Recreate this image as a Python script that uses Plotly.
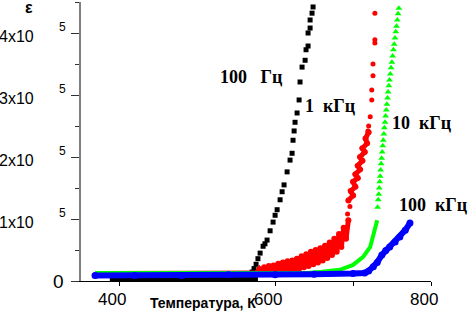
import plotly.graph_objects as go

# ---------------- data (epsilon in units of 10^5) ----------------
x_tick_vals = [400, 600, 800]
x_tick_labels = ["400", "600", "800"]
y_tick_vals = [1, 2, 3, 4]
y_tick_labels = ["1x10", "2x10", "3x10", "4x10"]
y_tick_exp = "5"

series_names = ["100 Гц", "1 кГц", "10 кГц", "100 кГц"]

# 100 Hz (black squares)
black_T_base = [388, 420, 460, 500, 540, 570, 578]
black_eps_base = [0.02, 0.02, 0.02, 0.02, 0.02, 0.03, 0.04]
black_T_rise = [570.5, 573, 575.6, 578, 580.8, 584.6, 587, 589.7, 593.6, 597.4, 600,
                602.6, 606.4, 609, 611.5, 615.4, 619.2, 621.8, 623, 624.4, 625.6, 628.2,
                630.8, 632, 634.6, 638.5, 639.7, 642.3, 642.3, 644.9, 644.9, 647.4, 648.7]
black_eps_rise = [0.145, 0.2, 0.27, 0.36, 0.45, 0.56, 0.6, 0.66, 0.81, 0.95, 1.06,
                  1.15, 1.31, 1.44, 1.55, 1.76, 1.95, 2.06, 2.27, 2.42, 2.56, 2.71,
                  2.92, 3.21, 3.45, 3.56, 3.73, 3.79, 4.0, 4.08, 4.21, 4.32, 4.42]

# 1 kHz (red)
red_T_base = [372, 420, 480, 540, 577]
red_eps_base = [0.12, 0.12, 0.12, 0.12, 0.13]
red_T_band = [577, 580, 583, 586, 589, 592, 595, 598, 601, 604, 607, 610, 613, 616, 619,
              622, 625, 628, 631, 634, 637, 640, 643, 646, 649, 652, 655, 658, 661, 664,
              667, 670, 673, 676, 679, 682, 685, 688, 691, 694]
red_eps_band = [0.13, 0.19, 0.14, 0.22, 0.15, 0.24, 0.16, 0.25, 0.15, 0.28, 0.17, 0.3,
                0.16, 0.32, 0.18, 0.33, 0.19, 0.36, 0.2, 0.4, 0.22, 0.43, 0.24, 0.47,
                0.27, 0.5, 0.3, 0.53, 0.33, 0.57, 0.37, 0.62, 0.42, 0.68, 0.47, 0.76,
                0.55, 0.86, 0.68, 0.98]
red_T_mid = [694, 700, 697, 703, 700, 706, 703, 709, 706, 712, 709, 715, 712, 718, 716,
             720]
red_eps_mid = [1.3, 1.38, 1.45, 1.52, 1.6, 1.66, 1.72, 1.8, 1.86, 1.94, 2.0, 2.08, 2.14,
               2.22, 2.3, 2.4]
red_T_top = [693, 696, 719, 720, 722, 724, 724, 725.6, 725.6, 728, 728, 728]
red_eps_top = [1.08, 1.2, 2.42, 2.5, 2.65, 2.92, 3.08, 3.31, 3.5, 3.84, 3.89, 4.32]

# 10 kHz (green triangles)
green_T_base = [369, 420, 480, 540, 600, 640, 660, 683, 700, 713, 722, 725.6, 728, 731]
green_eps_base = [0.13, 0.13, 0.13, 0.13, 0.13, 0.13, 0.15, 0.18, 0.26, 0.39, 0.55,
                  0.71, 0.87, 0.98]
green_T_top = [731.5, 732.3, 733, 733.6, 734.2, 734.8, 735.4, 736, 736.7, 737.4, 738.1,
               738.8, 739.5, 740.2, 741, 741.8, 742.6, 743.4, 744.2, 745, 745.9, 746.8,
               747.8, 748.8, 749.8, 750.8, 751.8, 752.8, 753.8, 754.8, 755.8, 756.8,
               757.8, 758.8]
green_eps_top = [1.19, 1.31, 1.4, 1.5, 1.6, 1.69, 1.79, 1.89, 1.98, 2.08, 2.18, 2.27,
                 2.37, 2.47, 2.56, 2.66, 2.76, 2.85, 2.95, 3.05, 3.15, 3.24, 3.34, 3.44,
                 3.53, 3.63, 3.73, 3.82, 3.92, 4.02, 4.11, 4.21, 4.31, 4.4]

# 100 kHz (blue circles)
blue_T = [369, 420, 480, 540, 600, 650, 700, 715, 720, 726, 731, 737, 742, 747, 754,
          760, 767, 773]
blue_eps = [0.09, 0.09, 0.09, 0.1, 0.1, 0.11, 0.12, 0.13, 0.16, 0.23, 0.3, 0.42, 0.49,
            0.55, 0.63, 0.71, 0.82, 0.935]

SCALE = 1e5


def sc(v):
    return [e * SCALE for e in v]


fig = go.Figure()

# black
fig.add_trace(go.Scatter(x=black_T_base, y=sc(black_eps_base), mode="lines",
                         line=dict(color="black", width=6), showlegend=False))
fig.add_trace(go.Scatter(x=black_T_rise, y=sc(black_eps_rise), mode="markers",
                         marker=dict(symbol="square", size=5, color="black"),
                         showlegend=False))
# red
fig.add_trace(go.Scatter(x=red_T_base, y=sc(red_eps_base), mode="lines",
                         line=dict(color="#ff0000", width=5), showlegend=False))
fig.add_trace(go.Scatter(x=red_T_band, y=sc(red_eps_band), mode="lines+markers",
                         line=dict(color="#ff0000", width=5),
                         marker=dict(symbol="circle", size=6, color="#ff0000"),
                         showlegend=False))
fig.add_trace(go.Scatter(x=red_T_mid, y=sc(red_eps_mid), mode="lines+markers",
                         line=dict(color="#ff0000", width=5),
                         marker=dict(symbol="circle", size=6, color="#ff0000"),
                         showlegend=False))
fig.add_trace(go.Scatter(x=red_T_top, y=sc(red_eps_top), mode="markers",
                         marker=dict(symbol="circle", size=5, color="#ff0000"),
                         showlegend=False))
# green
fig.add_trace(go.Scatter(x=green_T_base, y=sc(green_eps_base), mode="lines",
                         line=dict(color="#00ff00", width=4), showlegend=False))
fig.add_trace(go.Scatter(x=green_T_top, y=sc(green_eps_top), mode="markers",
                         marker=dict(symbol="triangle-up", size=6, color="#00ff00"),
                         showlegend=False))
# blue
fig.add_trace(go.Scatter(x=blue_T, y=sc(blue_eps), mode="lines+markers",
                         line=dict(color="#0000ff", width=6),
                         marker=dict(symbol="circle", size=7, color="#0000ff"),
                         showlegend=False))

ann = []
tick_font = dict(family="Liberation Sans, Arial, sans-serif", size=17, color="black")
for v, lab in zip(x_tick_vals, x_tick_labels):
    ann.append(dict(x=v, y=0, xref="x", yref="paper", text=lab, showarrow=False,
                    xanchor="center", yanchor="middle", xshift=-7, yshift=-18,
                    font=tick_font))
for v, lab in zip(y_tick_vals, y_tick_labels):
    ann.append(dict(x=0, y=v * SCALE, xref="paper", yref="y", text=lab, showarrow=False,
                    xanchor="right", yanchor="middle", xshift=-45, yshift=-3,
                    font=dict(family="Liberation Sans, Arial, sans-serif", size=16,
                              color="black")))
    ann.append(dict(x=0, y=v * SCALE, xref="paper", yref="y", text=y_tick_exp,
                    showarrow=False, xanchor="center", yanchor="middle", xshift=-19,
                    yshift=6, font=dict(family="Liberation Sans, Arial, sans-serif",
                                        size=12, color="black")))
ann.append(dict(x=0, y=0, xref="paper", yref="y", text="0", showarrow=False,
                xanchor="center", yanchor="middle", xshift=-23, yshift=0,
                font=dict(family="Liberation Sans, Arial, sans-serif", size=19,
                          color="black")))
# axis titles
ann.append(dict(x=0, y=1, xref="paper", yref="paper", text="ε", showarrow=False,
                xanchor="center", yanchor="middle", xshift=-52, yshift=-5,
                font=dict(family="Liberation Sans, Arial, sans-serif", size=16,
                          color="black", weight="bold")))
ann.append(dict(x=0, y=0, xref="paper", yref="paper", text="Температура, К",
                showarrow=False, xanchor="left", yanchor="middle", xshift=67, yshift=-22,
                font=dict(family="Liberation Sans, Arial, sans-serif", size=14,
                          color="black", weight="bold")))
# series labels
lab_font = dict(family="Liberation Serif, Times New Roman, serif", size=18,
                color="black", weight="bold")
label_pos = [(527, 3.29), (636, 2.82), (747.4, 2.55), (756, 1.23)]
label_text = ["100&nbsp;&nbsp;&nbsp;Гц", "1&nbsp;&nbsp;кГц", "10&nbsp;&nbsp;кГц",
              "100&nbsp;&nbsp;кГц"]
for (lx, ly), t in zip(label_pos, label_text):
    ann.append(dict(x=lx, y=ly * SCALE, xref="x", yref="y", text=t, showarrow=False,
                    xanchor="left", yanchor="middle", font=lab_font))

fig.update_layout(
    width=470, height=315,
    margin=dict(l=81, r=39, t=2, b=34, pad=0),
    paper_bgcolor="white", plot_bgcolor="white",
    showlegend=False,
    annotations=ann,
    xaxis=dict(range=[351, 800], showgrid=False, zeroline=False, showline=True,
               linecolor="black", linewidth=1, ticks="outside", ticklen=4,
               tickcolor="black", tickvals=[400, 600, 700, 800], showticklabels=False),
    yaxis=dict(range=[0, 4.5 * SCALE], showgrid=False, zeroline=False, showline=True,
               linecolor="#808080", linewidth=1.5, ticks="outside", ticklen=8,
               tickcolor="#333333", tickvals=[0, 1e5, 2e5, 3e5, 4e5],
               showticklabels=False,
               minor=dict(tickvals=[0.5e5, 1.5e5, 2.5e5, 3.5e5, 4.5e5], ticks="outside",
                          ticklen=4, tickcolor="#333333")),
)

fig.write_html("out.html",
               config={"displayModeBar": False},
               post_script="document.body.style.margin='0';"
                           "document.body.style.overflow='hidden';")
